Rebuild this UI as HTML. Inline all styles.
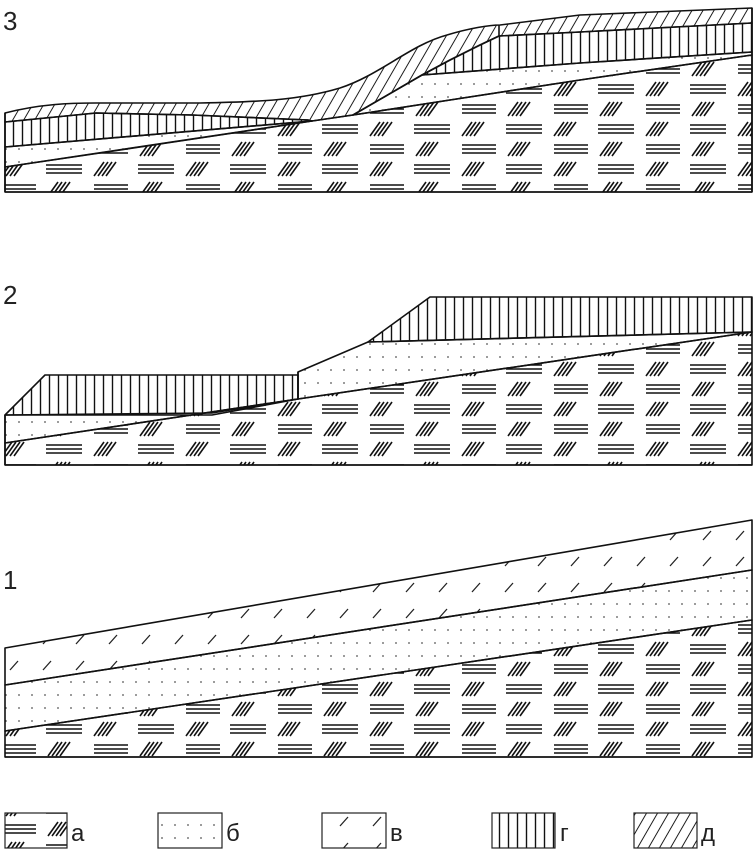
<!DOCTYPE html>
<html><head><meta charset="utf-8"><style>
html,body{margin:0;padding:0;background:#fff;}
svg{display:block;}
text{font-family:"Liberation Sans",sans-serif;fill:#222;}
</style></head><body>
<svg width="754" height="851" viewBox="0 0 754 851" xmlns="http://www.w3.org/2000/svg">
<defs>
<pattern id="pa" width="92" height="40" patternUnits="userSpaceOnUse">
<g stroke="#111" stroke-width="1.6">
<line x1="2" y1="16" x2="12" y2="2"/><line x1="6" y1="16" x2="16" y2="2"/><line x1="10" y1="16" x2="20" y2="2"/><line x1="14" y1="16" x2="24" y2="2"/>
<line x1="48" y1="36" x2="58" y2="22"/><line x1="52" y1="36" x2="62" y2="22"/><line x1="56" y1="36" x2="66" y2="22"/><line x1="60" y1="36" x2="70" y2="22"/>
<line x1="46" y1="5" x2="82" y2="5"/><line x1="46" y1="9" x2="82" y2="9"/><line x1="46" y1="13" x2="82" y2="13"/>
<line x1="2" y1="25" x2="36" y2="25"/><line x1="2" y1="29" x2="36" y2="29"/><line x1="2" y1="33" x2="36" y2="33"/>
</g></pattern>
<pattern id="pb" width="13" height="13" patternUnits="userSpaceOnUse">
<circle cx="6" cy="6" r="0.9" fill="#555"/></pattern>
<pattern id="pv" width="33" height="26" patternUnits="userSpaceOnUse">
<line x1="10" y1="20" x2="18" y2="11" stroke="#222" stroke-width="1.3"/></pattern>
<pattern id="pg" width="9" height="10" patternUnits="userSpaceOnUse">
<line x1="4.5" y1="0" x2="4.5" y2="10" stroke="#111" stroke-width="1.4"/></pattern>
<pattern id="pd" width="11" height="11" patternUnits="userSpaceOnUse" patternTransform="skewX(-30)">
<line x1="5" y1="0" x2="5" y2="11" stroke="#111" stroke-width="1.1"/></pattern>
</defs>

<text x="3" y="30" font-size="26">3</text>
<text x="3" y="304" font-size="26">2</text>
<text x="3" y="589" font-size="26">1</text>

<!-- Panel 3 -->
<g stroke="#111" stroke-width="1.6" stroke-linejoin="round">
<polygon fill="url(#pa)" points="5,167 100,153 200,138 312,121 353,115 450,100 580,80 752,55 752,192 5,192"/>
<polygon fill="url(#pb)" points="5,147 312,121 5,167"/>
<polygon fill="url(#pb)" points="422,75 580,63 752,52 752,55 580,80 450,100 353,115"/>
<polygon fill="url(#pg)" points="5,122 96,113 192,115 308,120 312,121 5,147"/>
<polygon fill="url(#pg)" points="422,75 450,60 480,45 499,36 580,32 752,23 752,52 580,63"/>
<path fill="url(#pd)" d="M5,113 C40,104 70,103 96,103 L200,103 C260,102 300,100 340,88 C380,75 410,45 447,35 C470,28 490,25 500,25 L580,15 L752,8 L752,23 L580,32 L499,36 L480,45 L450,60 L422,75 L353,115 L312,121 L308,120 L192,115 L96,113 L5,122 Z"/>
<line x1="499" y1="25" x2="499" y2="36"/>
<line x1="5" y1="113" x2="5" y2="192"/>
<line x1="752" y1="8" x2="752" y2="192"/>
<line x1="5" y1="192" x2="752" y2="192"/>
</g>

<!-- Panel 2 -->
<g stroke="#111" stroke-width="1.6" stroke-linejoin="round">
<polygon fill="url(#pa)" points="5,443 298,399 752,332 752,465 5,465"/>
<polygon fill="url(#pb)" points="5,415 212,415 298,399 5,443"/>
<polygon fill="url(#pb)" points="298,372 368,342 752,332 298,399"/>
<polygon fill="url(#pg)" points="5,415 45,375 298,375 298,399 212,413 5,415"/>
<polygon fill="url(#pg)" points="368,342 430,297 752,297 752,332"/>
<line x1="298" y1="372" x2="298" y2="399"/>
<line x1="5" y1="415" x2="5" y2="465"/>
<line x1="5" y1="465" x2="752" y2="465"/>
</g>

<!-- Panel 1 -->
<g stroke="#111" stroke-width="1.6" stroke-linejoin="round">
<polygon fill="url(#pa)" points="5,731 752,620 752,757 5,757"/>
<polygon fill="url(#pb)" points="5,685 752,570 752,620 5,731"/>
<polygon fill="url(#pv)" points="5,648 752,520 752,570 5,685"/>
<line x1="5" y1="757" x2="752" y2="757"/>
</g>

<!-- Legend -->
<g stroke="#222" stroke-width="1.2">
<rect x="5" y="813" width="62" height="35" fill="url(#pa)"/>
<rect x="158" y="813" width="64" height="35" fill="url(#pb)"/>
<rect x="322" y="813" width="64" height="35" fill="url(#pv)"/>
<rect x="492" y="813" width="63" height="35" fill="url(#pg)"/>
<rect x="634" y="813" width="63" height="35" fill="url(#pd)"/>
</g>
<text x="71" y="841" font-size="24">а</text>
<text x="226" y="841" font-size="24">б</text>
<text x="390" y="841" font-size="24">в</text>
<text x="560" y="841" font-size="24">г</text>
<text x="701" y="841" font-size="24">д</text>
</svg>
</body></html>
